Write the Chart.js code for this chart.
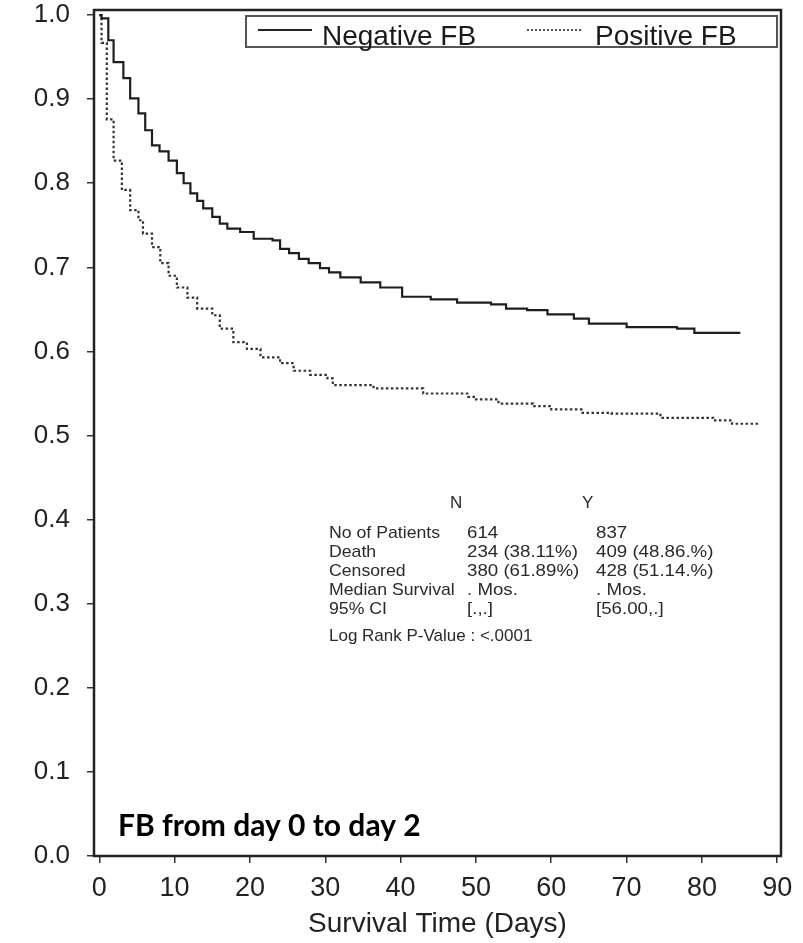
<!DOCTYPE html>
<html>
<head>
<meta charset="utf-8">
<script src="https://cdn.jsdelivr.net/npm/chart.js@4.4.1/dist/chart.umd.min.js"></script>
<style>
  html, body { margin: 0; padding: 0; background: #fff; }
  #wrap { width: 803px; height: 943px; }
</style>
</head>
<body>
<div id="wrap"><canvas id="km"></canvas></div>
<script>
// Kaplan-Meier curves (day, survival after the drop)
const negDays = [0, 0.3, 1.2, 1.9, 3.2, 4.1, 5.2, 6.1, 7.0, 8.0, 9.2, 10.3, 11.2, 12.1, 13.0, 13.8, 15.0, 16.0, 17.0, 18.7, 20.5, 23.0, 24.0, 25.2, 26.5, 27.8, 29.3, 30.5, 32.0, 34.7, 37.3, 40.2, 44.0, 47.5, 52.0, 54.0, 56.8, 59.5, 63.0, 65.0, 70.0, 76.7, 79.0, 85.1];
const negSurv = [1.0, 0.996, 0.970, 0.944, 0.925, 0.901, 0.883, 0.863, 0.845, 0.838, 0.827, 0.812, 0.800, 0.788, 0.779, 0.770, 0.760, 0.752, 0.746, 0.742, 0.734, 0.732, 0.722, 0.717, 0.710, 0.705, 0.699, 0.694, 0.688, 0.682, 0.676, 0.665, 0.662, 0.658, 0.656, 0.651, 0.649, 0.644, 0.639, 0.633, 0.629, 0.627, 0.622, 0.622];

const posDays = [0, 0.3, 1.0, 1.9, 3.0, 4.1, 5.2, 5.8, 7.0, 8.1, 9.2, 10.3, 11.7, 13.0, 15.0, 16.0, 17.8, 19.6, 21.4, 24.0, 25.8, 28.0, 30.3, 31.0, 36.4, 43.0, 49.0, 50.0, 53.0, 57.6, 60.0, 64.0, 68.0, 74.5, 81.5, 84.0, 87.8];
const posSurv = [1.0, 0.967, 0.876, 0.827, 0.792, 0.768, 0.756, 0.740, 0.724, 0.705, 0.690, 0.676, 0.664, 0.651, 0.643, 0.627, 0.611, 0.603, 0.593, 0.586, 0.577, 0.572, 0.568, 0.560, 0.556, 0.550, 0.546, 0.543, 0.538, 0.535, 0.531, 0.527, 0.526, 0.521, 0.518, 0.514, 0.514];

const xTicks = [0, 10, 20, 30, 40, 50, 60, 70, 80, 90];
const yTicks = [0, 0.1, 0.2, 0.3, 0.4, 0.5, 0.6, 0.7, 0.8, 0.9, 1.0];
const seriesNames = ['Negative FB', 'Positive FB'];

const statsHeader = ['N', 'Y'];
const statsRows = [
  ['No of Patients', '614', '837'],
  ['Death', '234 (38.11%)', '409 (48.86.%)'],
  ['Censored', '380 (61.89%)', '428 (51.14.%)'],
  ['Median Survival', '. Mos.', '. Mos.'],
  ['95% CI', '[.,.]', '[56.00,.]']
];
const pValueText = 'Log Rank P-Value : <.0001';
const panelNote = 'FB from day 0 to day 2';

const toPoints = (xs, ys) => xs.map((x, i) => ({ x: x, y: ys[i] }));

// SAS-like text, stretched a little sideways
function stretched(ctx, txt, x, y, sx) {
  ctx.save();
  ctx.translate(x, y);
  ctx.scale(sx, 1);
  ctx.fillText(txt, 0, 0);
  ctx.restore();
}

const frameAndText = {
  id: 'frameAndText',
  afterDraw(chart) {
    const ctx = chart.ctx;
    const a = chart.chartArea;
    ctx.save();
    // plot frame
    ctx.strokeStyle = '#222';
    ctx.lineWidth = 2.5;
    ctx.strokeRect(a.left, a.top, a.right - a.left, a.bottom - a.top);

    // legend box
    ctx.strokeStyle = '#555';
    ctx.lineWidth = 2;
    ctx.strokeRect(246, 16, 531, 31);
    ctx.strokeStyle = '#222';
    ctx.beginPath();
    ctx.moveTo(258, 30); ctx.lineTo(312, 30);
    ctx.stroke();
    ctx.strokeStyle = '#555';
    ctx.setLineDash([2, 2]);
    ctx.beginPath();
    ctx.moveTo(527, 30); ctx.lineTo(582, 30);
    ctx.stroke();
    ctx.setLineDash([]);
    ctx.fillStyle = '#1a1a1a';
    ctx.font = '28px "Liberation Sans", Arial, sans-serif';
    ctx.textBaseline = 'alphabetic';
    ctx.fillText(seriesNames[0], 322, 45);
    ctx.fillText(seriesNames[1], 595, 45);

    // stats table
    ctx.font = '17px "Liberation Sans", Arial, sans-serif';
    ctx.fillStyle = '#2a2a2a';
    ctx.fillText(statsHeader[0], 450, 508);
    ctx.fillText(statsHeader[1], 582, 508);
    statsRows.forEach((r, i) => {
      const y = 538 + i * 19;
      stretched(ctx, r[0], 329, y, 1.04);
      stretched(ctx, r[1], 467, y, 1.1);
      stretched(ctx, r[2], 596, y, 1.1);
    });
    stretched(ctx, pValueText, 329, 641, 1.0);

    // panel note
    ctx.font = 'bold 30px Lato, "Open Sans", sans-serif';
    ctx.fillStyle = '#000';
    ctx.fillText(panelNote, 118, 836);
    ctx.restore();
  }
};

new Chart(document.getElementById('km'), {
  type: 'line',
  data: {
    datasets: [
      {
        label: seriesNames[0],
        data: toPoints(negDays, negSurv),
        stepped: 'before',
        borderColor: '#1e1e1e',
        borderWidth: 2.2,
        pointRadius: 0,
        fill: false
      },
      {
        label: seriesNames[1],
        data: toPoints(posDays, posSurv),
        stepped: 'before',
        borderColor: '#333',
        borderWidth: 2.2,
        borderDash: [2.5, 2.5],
        pointRadius: 0,
        fill: false
      }
    ]
  },
  plugins: [frameAndText],
  options: {
    responsive: true,
    maintainAspectRatio: false,
    animation: false,
    layout: { padding: { top: 10, right: 22, left: 0, bottom: 0 } },
    plugins: {
      legend: { display: false },
      tooltip: { enabled: false }
    },
    scales: {
      x: {
        type: 'linear',
        min: -0.7,
        max: 90.5,
        afterBuildTicks: (axis) => { axis.ticks = xTicks.map(v => ({ value: v })); },
        afterFit: (axis) => { axis.height = 87; axis.paddingLeft = 0; axis.paddingRight = 0; },
        border: { display: false },
        grid: { drawOnChartArea: false, drawTicks: true, tickLength: 7, color: '#333', lineWidth: 1.5 },
        ticks: {
          autoSkip: false,
          maxRotation: 0,
          padding: 9,
          color: '#222',
          font: { family: '"Liberation Sans", Arial, sans-serif', size: 27 }
        },
        title: {
          display: true,
          text: 'Survival Time (Days)',
          color: '#222',
          font: { family: '"Liberation Sans", Arial, sans-serif', size: 28 },
          padding: { top: 0, bottom: 2 }
        }
      },
      y: {
        min: 0,
        max: 1.006,
        afterBuildTicks: (axis) => { axis.ticks = yTicks.map(v => ({ value: v })); },
        afterFit: (axis) => { axis.width = 94; axis.paddingTop = 0; axis.paddingBottom = 0; },
        border: { display: false },
        grid: { drawOnChartArea: false, drawTicks: true, tickLength: 7, color: '#333', lineWidth: 1.5 },
        ticks: {
          padding: 17,
          color: '#222',
          font: { family: '"Liberation Sans", Arial, sans-serif', size: 26 },
          callback: (v) => v.toFixed(1)
        }
      }
    }
  }
});
</script>
</body>
</html>
